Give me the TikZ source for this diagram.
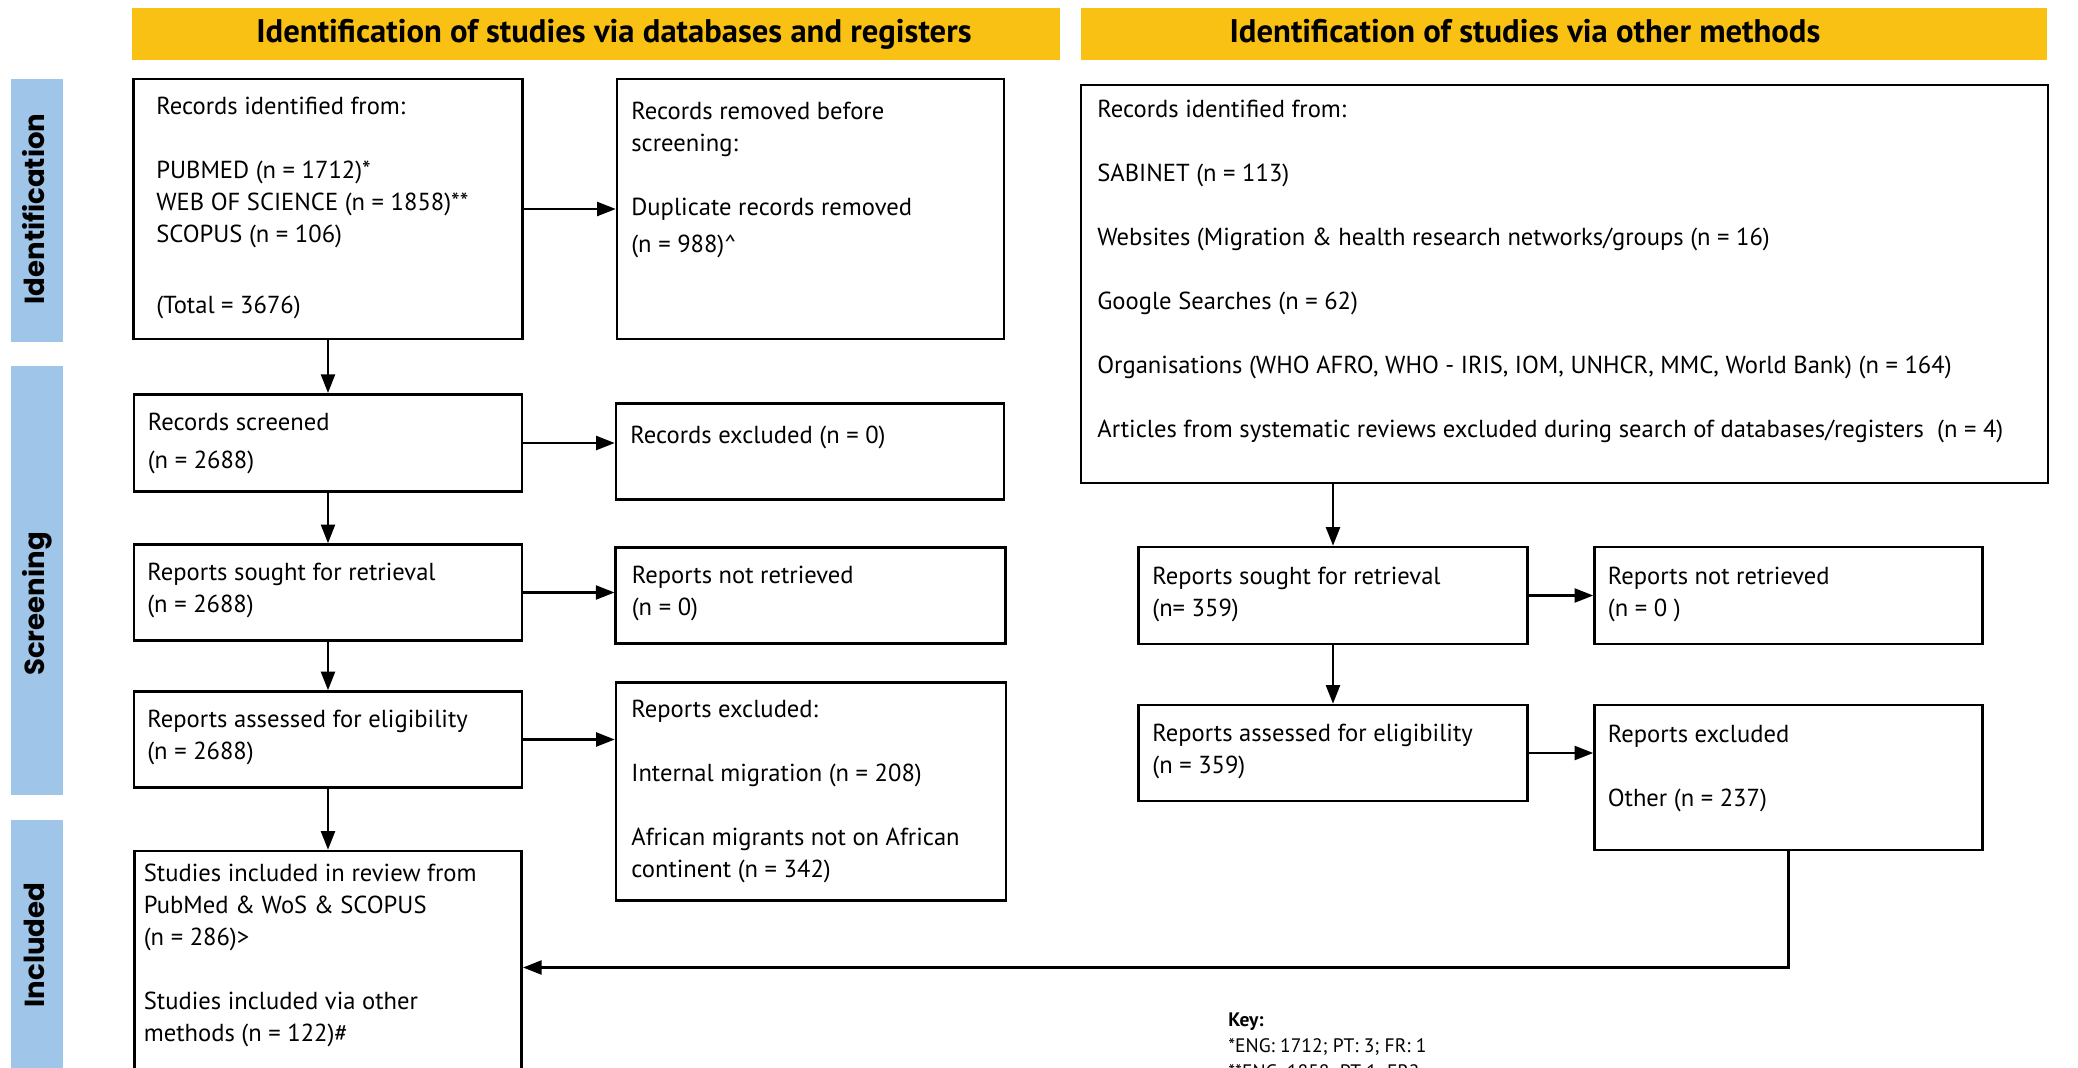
\documentclass[tikz,border=0pt]{standalone}
\usepackage{fontspec}
\setmainfont{PT Sans}
\newfontfamily\etapafont{Poppins}
\usetikzlibrary{arrows.meta}
\definecolor{amarillo}{HTML}{F9C114}
\definecolor{azul}{HTML}{9FC5E8}

\begin{document}
\begin{tikzpicture}[
  caja/.style={draw, line width=1.5pt, inner sep=0pt},
  texto/.style={anchor=base west, align=left, inner sep=0pt,
                font=\fontsize{14}{18.2}\selectfont},
  clave/.style={anchor=base west, align=left, inner sep=0pt,
                font=\fontsize{11.1}{14.8}\selectfont},
  cabecera/.style={fill=amarillo, inner sep=0pt, minimum height=1.04cm},
  titulo/.style={anchor=base, inner sep=0pt,
                 font=\fontsize{18.6}{20}\selectfont\bfseries},
  etapa/.style={fill=azul, inner sep=0pt, minimum width=1.04cm},
  etiqueta/.style={rotate=90, anchor=base, inner sep=0pt,
                   font=\etapafont\fontsize{15.7}{18}\selectfont\bfseries},
  flecha/.style={-{Triangle[length=0.37cm, width=0.28cm]}, line width=1.2pt}
]
  \useasboundingbox (0,0) rectangle (41.56,-21.36);

  % headers and stages
  \node[cabecera, minimum width=18.56cm] (cab1) at (11.92,-0.68) {};
  \node[titulo] (tit1) at (12.28,-0.854) {Identification of studies via databases and registers};
  \node[cabecera, minimum width=19.32cm] (cab2) at (31.28,-0.68) {};
  \node[titulo] (tit2) at (30.5,-0.854) {Identification of studies via other methods};

  \node[etapa, minimum height=5.254cm] (barid) at (0.737,-4.207) {};
  \node[etiqueta] (etid) at (0.89,-4.18) {Identification};
  \node[etapa, minimum height=8.574cm] (barscr) at (0.737,-11.607) {};
  \node[etiqueta] (etscr) at (0.89,-12.08) {Screening};
  \node[etapa, minimum height=5.2cm] (barinc) at (0.737,-19.0) {};
  \node[etiqueta] (etinc) at (0.89,-18.9) {Included};

  % databases and registers
  \node[caja, minimum width=7.78cm, minimum height=5.2cm] (ident) at (6.56,-4.18) {};
  \node[caja, minimum width=7.74cm, minimum height=5.2cm] (removed) at (16.21,-4.18) {};
  \node[caja, minimum width=7.76cm, minimum height=1.95cm] (screened) at (6.56,-8.86) {};
  \node[caja, minimum width=7.76cm, minimum height=1.92cm] (recexcl) at (16.2,-9.03) {};
  \node[caja, minimum width=7.76cm, minimum height=1.92cm] (sought) at (6.56,-11.85) {};
  \node[caja, minimum width=7.79cm, minimum height=1.92cm] (notret) at (16.21,-11.91) {};
  \node[caja, minimum width=7.76cm, minimum height=1.92cm] (assessed) at (6.56,-14.79) {};
  \node[caja, minimum width=7.8cm, minimum height=4.36cm] (repexcl) at (16.22,-15.83) {};
  \node[caja, minimum width=7.75cm, minimum height=4.66cm] (included) at (6.56,-19.35) {};

  % texts sit on the baseline of their last line
  \node[texto] (ident-t) at (3.12,-6.26) {Records identified from:\\ \\PUBMED (n = 1712)*\\WEB OF SCIENCE (n = 1858)**\\SCOPUS (n = 106)\\[0.14cm] \\(Total = 3676)};
  \node[texto] (removed-t) at (12.62,-5.05) {Records removed before\\screening:\\ \\Duplicate records removed\\[0.11cm](n = 988)\textasciicircum};
  \node[texto] (screened-t) at (2.95,-9.37) {Records screened\\[0.13cm](n = 2688)};
  \node[texto] (recexcl-t) at (12.6,-8.87) {Records excluded (n = 0)};
  \node[texto] (sought-t) at (2.94,-12.25) {Reports sought for retrieval\\(n = 2688)};
  \node[texto] (notret-t) at (12.63,-12.3) {Reports not retrieved\\(n = 0)};
  \node[texto] (assessed-t) at (2.94,-15.18) {Reports assessed for eligibility\\(n = 2688)};
  \node[texto] (repexcl-t) at (12.62,-17.55) {Reports excluded:\\ \\Internal migration (n = 208)\\ \\African migrants not on African\\continent (n = 342)};
  \node[texto] (included-t) at (2.87,-20.83) {Studies included in review from\\PubMed \& WoS \& SCOPUS\\(n = 286)>\\ \\Studies included via other\\methods (n = 122)\#};

  % other methods
  \node[caja, minimum width=19.34cm, minimum height=7.96cm] (otherid) at (31.29,-5.68) {};
  \node[caja, minimum width=7.78cm, minimum height=1.94cm] (osought) at (26.66,-11.91) {};
  \node[caja, minimum width=7.76cm, minimum height=1.94cm] (onotret) at (35.77,-11.91) {};
  \node[caja, minimum width=7.78cm, minimum height=1.92cm] (oassessed) at (26.66,-15.06) {};
  \node[caja, minimum width=7.76cm, minimum height=2.9cm] (oexcl) at (35.77,-15.55) {};

  \node[texto] (otherid-t) at (21.94,-8.75) {Records identified from:\\ \\SABINET (n = 113)\\ \\Websites (Migration \& health research networks/groups (n = 16)\\ \\Google Searches (n = 62)\\ \\Organisations (WHO AFRO, WHO - IRIS, IOM, UNHCR, MMC, World Bank) (n = 164)\\ \\Articles from systematic reviews excluded during search of databases/registers\ \ (n = 4)};
  \node[texto] (osought-t) at (23.04,-12.32) {Reports sought for retrieval\\(n= 359)};
  \node[texto] (onotret-t) at (32.15,-12.32) {Reports not retrieved\\(n = 0 )};
  \node[texto] (oassessed-t) at (23.04,-15.47) {Reports assessed for eligibility\\(n = 359)};
  \node[texto] (oexcl-t) at (32.15,-16.12) {Reports excluded\\ \\Other (n = 237)};

  \node[clave] (key) at (24.56,-21.57) {\textbf{Key:}\\{}*ENG: 1712; PT: 3; FR: 1\\{}**ENG: 1858; PT 1; FR2};

  % arrows
  \draw[flecha] (ident) -- (ident -| removed.west);
  \draw[flecha] (ident) -- (screened);
  \draw[flecha] (screened) -- (screened -| recexcl.west);
  \draw[flecha] (screened) -- (sought);
  \draw[flecha] (sought) -- (sought -| notret.west);
  \draw[flecha] (sought) -- (assessed);
  \draw[flecha] (assessed) -- (assessed -| repexcl.west);
  \draw[flecha] (assessed) -- (included);
  \draw[flecha] (otherid.south -| osought) -- (osought);
  \draw[flecha] (osought) -- (osought -| onotret.west);
  \draw[flecha] (osought) -- (oassessed);
  \draw[flecha] (oassessed) -- (oassessed -| oexcl.west);
  \draw[flecha] (oexcl) |- (included);
\end{tikzpicture}
\end{document}
